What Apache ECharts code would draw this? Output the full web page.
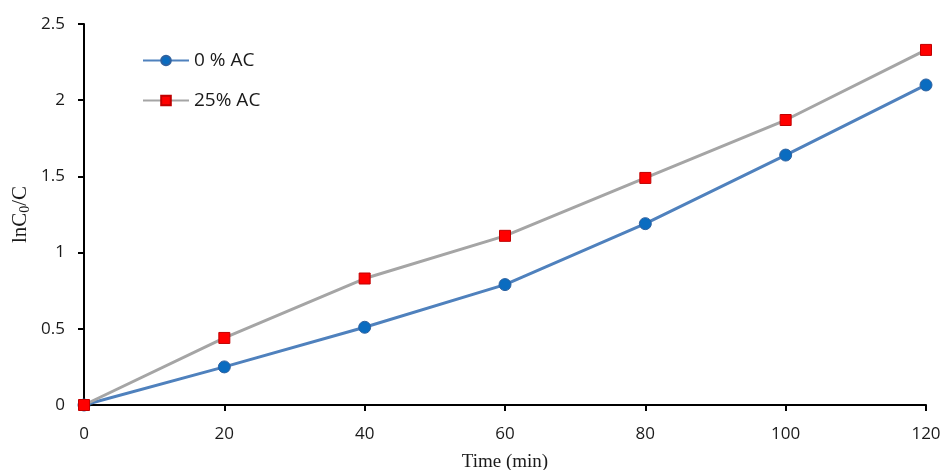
<!DOCTYPE html>
<html>
<head>
<meta charset="utf-8">
<script src="https://cdn.jsdelivr.net/npm/echarts@6/dist/echarts.min.js"></script>
<style>
  html, body { margin: 0; padding: 0; background: #fff; }
  #chart { width: 944px; height: 470px; }
</style>
</head>
<body>
<div id="chart"></div>
<script>
// Reaction time in minutes
const timeMin = [0, 20, 40, 60, 80, 100, 120];
// ln(C0/C) for each catalyst loading
const ac0 = [0, 0.25, 0.51, 0.79, 1.19, 1.64, 2.10];
const ac25 = [0, 0.44, 0.83, 1.11, 1.49, 1.87, 2.33];
const seriesNames = ['0 % AC', '25% AC'];

const pairs = (xs, ys) => xs.map((x, i) => [x, ys[i]]);

const tickFont = { fontFamily: 'Open Sans', fontSize: 17, color: '#1a1a1a' };

const chart = echarts.init(document.getElementById('chart'), null, { renderer: 'canvas' });
chart.setOption({
  animation: false,
  backgroundColor: '#fff',
  grid: { left: 84, right: 18, top: 24, bottom: 65, containLabel: false, outerBoundsMode: 'none' },
  legend: {
    orient: 'vertical',
    left: 137,
    top: 46,
    itemGap: 21,
    itemWidth: 46,
    itemHeight: 12,
    textStyle: { fontFamily: 'Open Sans', fontSize: 19, color: '#1a1a1a', padding: [0, 0, 0, 0] },
    data: seriesNames
  },
  xAxis: {
    type: 'value',
    min: 0, max: 120, interval: 20,
    name: 'Time (min)',
    nameLocation: 'middle',
    nameGap: 48,
    nameTextStyle: { fontFamily: 'Liberation Serif', fontSize: 19, color: '#1a1a1a' },
    axisLine: { lineStyle: { color: '#000', width: 2 } },
    axisTick: { show: true, length: 6, lineStyle: { color: '#000', width: 2 } },
    axisLabel: Object.assign({ margin: 21 }, tickFont),
    splitLine: { show: false }
  },
  yAxis: {
    type: 'value',
    min: 0, max: 2.5, interval: 0.5,
    name: '{a|lnC}{s|0}{a|/C}',
    nameLocation: 'middle',
    nameGap: 52,
    nameRotate: 90,
    nameMoveOverlap: false,
    nameTextStyle: {
      rich: {
        a: { fontFamily: 'Liberation Serif', fontSize: 21, color: '#1a1a1a' },
        s: { fontFamily: 'Liberation Serif', fontSize: 14, color: '#1a1a1a', verticalAlign: 'bottom', padding: [9, 0, 0, 0] }
      }
    },
    axisLine: { show: true, lineStyle: { color: '#000', width: 2 } },
    axisTick: { show: true, length: 6, lineStyle: { color: '#000', width: 2 } },
    axisLabel: Object.assign({ margin: 19, formatter: v => String(v) }, tickFont),
    splitLine: { show: false }
  },
  series: [
    {
      name: seriesNames[0],
      type: 'line',
      data: pairs(timeMin, ac0),
      symbol: 'circle',
      symbolSize: 12,
      lineStyle: { color: '#4f81bd', width: 3 },
      itemStyle: { color: '#0a6cc0', borderColor: '#2f62a0', borderWidth: 1 },
      z: 2
    },
    {
      name: seriesNames[1],
      type: 'line',
      data: pairs(timeMin, ac25),
      symbol: 'rect',
      symbolSize: 11,
      lineStyle: { color: '#a5a5a5', width: 3 },
      itemStyle: { color: '#ff0000', borderColor: '#c00000', borderWidth: 1 },
      z: 3
    }
  ]
});
</script>
</body>
</html>
